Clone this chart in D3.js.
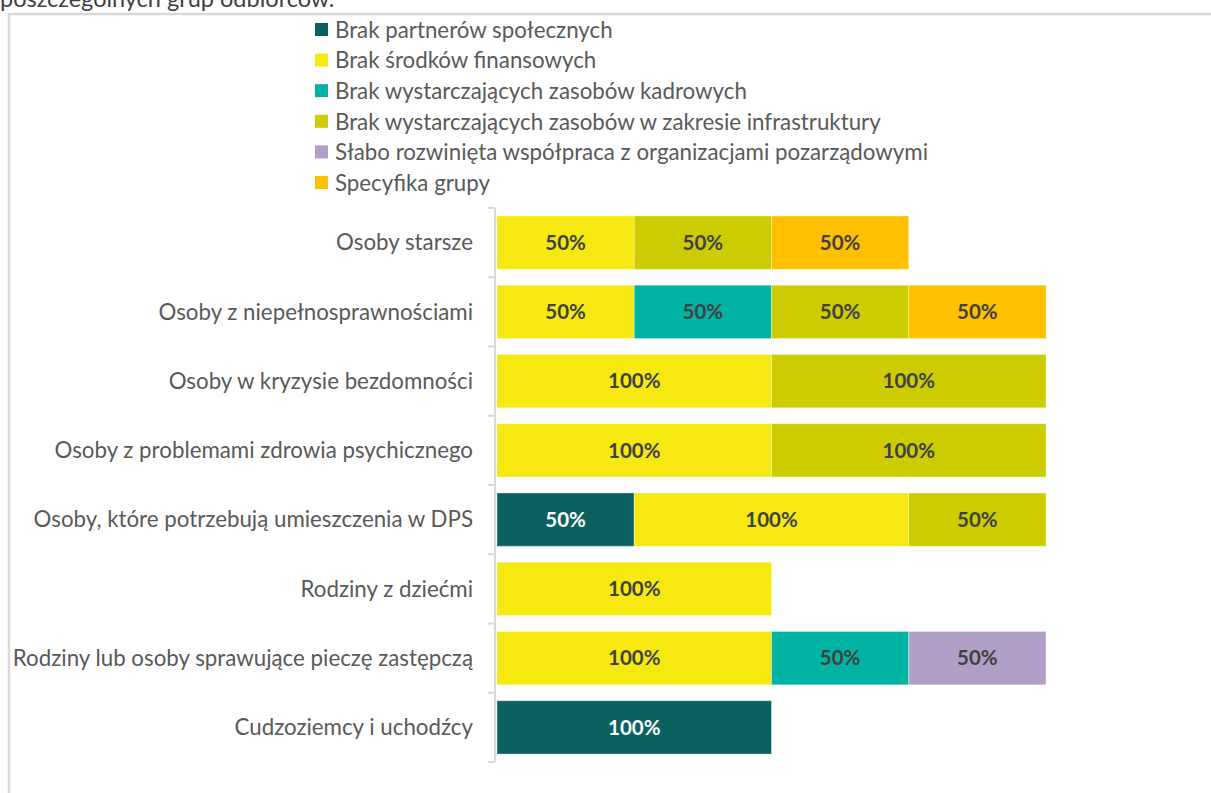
<!DOCTYPE html>
<html>
<head>
<meta charset="utf-8">
<script src="https://cdn.jsdelivr.net/npm/d3@7"></script>
<style>
  html, body { margin: 0; padding: 0; background: #fff; }
  svg { display: block; font-family: Lato, "Open Sans", sans-serif; }
</style>
</head>
<body>
<svg id="chart" width="1211" height="793"></svg>
<script>
// Groups of recipients (rows, top to bottom)
const categories = [
  "Osoby starsze",
  "Osoby z niepełnosprawnościami",
  "Osoby w kryzysie bezdomności",
  "Osoby z problemami zdrowia psychicznego",
  "Osoby, które potrzebują umieszczenia w DPS",
  "Rodziny z dziećmi",
  "Rodziny lub osoby sprawujące pieczę zastępczą",
  "Cudzoziemcy i uchodźcy"
];

// Barrier types (stack order, left to right)
const seriesNames = [
  "Brak partnerów społecznych",
  "Brak środków finansowych",
  "Brak wystarczających zasobów kadrowych",
  "Brak wystarczających zasobów w zakresie infrastruktury",
  "Słabo rozwinięta współpraca z organizacjami pozarządowymi",
  "Specyfika grupy"
];

const seriesColors = ["#0b6060", "#f6e912", "#00b3a4", "#cdcc00", "#b29fc7", "#ffc000"];

// Percentages per series, one value per category (0 = not indicated)
const brakPartnerow      = [0, 0, 0, 0, 50, 0, 0, 100];
const brakSrodkow        = [50, 50, 100, 100, 100, 100, 100, 0];
const brakKadr           = [0, 50, 0, 0, 0, 0, 50, 0];
const brakInfrastruktury = [50, 50, 100, 100, 50, 0, 0, 0];
const slabaWspolpraca    = [0, 0, 0, 0, 0, 0, 50, 0];
const specyfikaGrupy     = [50, 50, 0, 0, 0, 0, 0, 0];

const seriesValues = [brakPartnerow, brakSrodkow, brakKadr, brakInfrastruktury, slabaWspolpraca, specyfikaGrupy];

const titleTail = "poszczególnych grup odbiorców.";

// Build a row table for d3.stack
const rows = categories.map((c, i) => {
  const r = { category: c };
  seriesNames.forEach((s, k) => { r[s] = seriesValues[k][i]; });
  return r;
});

const svg = d3.select("#chart");

// Caption line above the chart frame
svg.append("text")
  .attr("x", 0).attr("y", 7)
  .attr("font-size", 23.5)
  .attr("fill", "#404040")
  .text(titleTail);

// Chart frame
svg.append("rect")
  .attr("x", 9).attr("y", 14)
  .attr("width", 1300).attr("height", 900)
  .attr("fill", "none")
  .attr("stroke", "#d9d9d9")
  .attr("stroke-width", 2.5);

// Legend
const legend = svg.append("g").attr("transform", "translate(315,30)");
seriesNames.forEach((s, k) => {
  const g = legend.append("g").attr("transform", `translate(0,${k * 30.6})`);
  g.append("rect").attr("x", 0).attr("y", -7).attr("width", 13).attr("height", 13).attr("fill", seriesColors[k]);
  g.append("text").attr("x", 20).attr("y", 0).attr("dy", "0.35em")
    .attr("font-size", 22.3).attr("fill", "#595959").text(s);
});

// Scales
const x = d3.scaleLinear().domain([0, 200]).range([497, 1046]);
const y = d3.scaleBand().domain(categories).range([208, 762]).paddingInner(0.23).paddingOuter(0.115);

const stack = d3.stack().keys(seriesNames);
const stacked = stack(rows);

// Bars
const layers = svg.append("g").selectAll("g")
  .data(stacked).join("g")
  .attr("fill", (d, k) => seriesColors[k]);

layers.selectAll("rect")
  .data(d => d.filter(p => p[1] - p[0] > 0))
  .join("rect")
  .attr("x", p => x(p[0]))
  .attr("y", p => y(p.data.category))
  .attr("width", p => x(p[1]) - x(p[0]))
  .attr("height", y.bandwidth())
  .attr("stroke", "#ffffff")
  .attr("stroke-opacity", 0.35)
  .attr("stroke-width", 1);

// Value labels
stacked.forEach((layer, k) => {
  svg.append("g").selectAll("text")
    .data(layer.filter(p => p[1] - p[0] > 0))
    .join("text")
    .attr("x", p => (x(p[0]) + x(p[1])) / 2)
    .attr("y", p => y(p.data.category) + y.bandwidth() / 2)
    .attr("dy", "0.35em")
    .attr("text-anchor", "middle")
    .attr("font-size", 20.5)
    .attr("font-weight", "bold")
    .attr("fill", k === 0 ? "#ffffff" : "#404040")
    .text(p => `${p[1] - p[0]}%`);
});

// Category axis
const axisG = svg.append("g").attr("transform", "translate(495,0)");
axisG.append("line")
  .attr("x1", 0).attr("x2", 0)
  .attr("y1", y.range()[0]).attr("y2", y.range()[1])
  .attr("stroke", "#d9d9d9").attr("stroke-width", 2);
const step = y.step();
d3.range(categories.length + 1).forEach(i => {
  const ty = y.range()[0] + i * step;
  axisG.append("line")
    .attr("x1", -7).attr("x2", 0).attr("y1", ty).attr("y2", ty)
    .attr("stroke", "#d9d9d9").attr("stroke-width", 2);
});
axisG.selectAll("text.cat")
  .data(categories).join("text")
  .attr("class", "cat")
  .attr("x", -22)
  .attr("y", d => y(d) + y.bandwidth() / 2)
  .attr("dy", "0.35em")
  .attr("text-anchor", "end")
  .attr("font-size", 22.3)
  .attr("fill", "#595959")
  .text(d => d);
</script>
</body>
</html>
